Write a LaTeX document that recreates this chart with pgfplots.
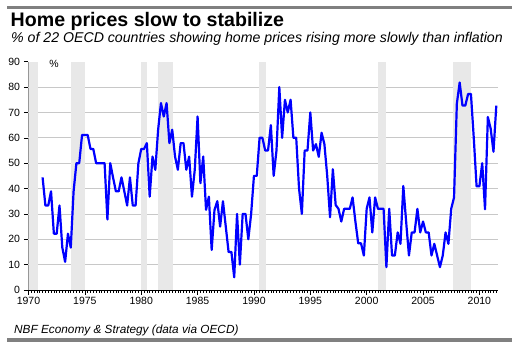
\documentclass[border=0pt]{standalone}
\usepackage{fontspec}
\setmainfont{Liberation Sans}
\usepackage{pgfplots}
\pgfplotsset{compat=1.18}
\definecolor{barcol}{RGB}{128,128,128}
\definecolor{bandcol}{RGB}{232,232,232}
\definecolor{gridcol}{RGB}{200,200,200}
\definecolor{linecol}{RGB}{0,0,255}
\begin{document}
\begin{tikzpicture}
\path[use as bounding box] (0pt,0pt) rectangle (512pt,-351pt);
\fill[barcol] (7pt,-5.7pt) rectangle (512pt,-9pt);
\fill[barcol] (7pt,-338pt) rectangle (512pt,-342pt);
\node[anchor=base west, inner sep=0pt, font=\fontsize{19.6}{21}\selectfont\bfseries] at (10.5pt,-26pt) {Home prices slow to stabilize};
\node[anchor=base west, inner sep=0pt, font=\fontsize{14.15}{16}\selectfont\itshape] at (11pt,-42.5pt) {\% of 22 OECD countries showing home prices rising more slowly than inflation};
\node[anchor=base west, inner sep=0pt, font=\fontsize{11.8}{14}\selectfont\itshape] at (14pt,-333pt) {NBF Economy \& Strategy (data via OECD)};
\node[inner sep=0pt, font=\fontsize{10.5}{12}\selectfont] at (54pt,-63.5pt) {\%};
\begin{axis}[
  at={(28.5pt,-290pt)}, anchor=south west,
  scale only axis, width=469.5pt, height=228.3pt,
  xmin=1970, xmax=2011.65, ymin=0, ymax=90,
  axis x line*=bottom, axis y line*=left,
  axis line style={black, line width=0.8pt},
  tick align=outside,
  tick style={black, line width=0.6pt},
  xtick={1970,1975,...,2010},
  minor xtick={1970,1970.25,...,2011.5},
  ytick={0,10,...,90},
  major tick length=4.5pt, minor tick length=2.5pt,
  extra y ticks={10,20,...,80},
  extra y tick labels={},
  extra y tick style={grid=major, major tick length=0pt},
  grid style={gridcol, line width=0.7pt},
  /pgf/number format/1000 sep={},
  /pgf/number format/assume math mode=true,
  ticklabel style={font=\fontsize{10.5}{12}\selectfont},
  xticklabel style={yshift=1pt},
  yticklabel style={xshift=-0.5pt},
]
\addplot[fill=bandcol, draw=none, forget plot] coordinates {(1970,90)(1970.8,90)} \closedcycle;
\addplot[fill=bandcol, draw=none, forget plot] coordinates {(1973.75,90)(1975.05,90)} \closedcycle;
\addplot[fill=bandcol, draw=none, forget plot] coordinates {(1980.0,90)(1980.5,90)} \closedcycle;
\addplot[fill=bandcol, draw=none, forget plot] coordinates {(1981.5,90)(1982.8,90)} \closedcycle;
\addplot[fill=bandcol, draw=none, forget plot] coordinates {(1990.45,90)(1991.05,90)} \closedcycle;
\addplot[fill=bandcol, draw=none, forget plot] coordinates {(2001.0,90)(2001.75,90)} \closedcycle;
\addplot[fill=bandcol, draw=none, forget plot] coordinates {(2007.7,90)(2009.25,90)} \closedcycle;
\addplot[linecol, line width=2.2pt, line join=round, mark=none] coordinates {
(1971.25,44.4)(1971.5,33.3)(1971.75,33.3)(1972.0,38.9)(1972.25,22.2)(1972.5,22.2)(1972.75,33.3)
(1973.0,16.7)(1973.25,11.1)(1973.5,22.2)(1973.75,16.7)(1974.0,38.9)(1974.25,50)(1974.5,50)(1974.75,61.1)
(1975.0,61.1)(1975.25,61.1)(1975.5,55.6)(1975.75,55.6)(1976.0,50)(1976.25,50)(1976.5,50)(1976.75,50)
(1977.0,27.8)(1977.25,50)(1977.5,44.4)(1977.75,38.9)(1978.0,38.9)(1978.25,44.4)(1978.5,38.9)(1978.75,33.3)
(1979.0,44.4)(1979.25,33.3)(1979.5,33.3)(1979.75,50)(1980.0,55.6)(1980.25,55.6)(1980.5,57.9)(1980.75,36.8)
(1981.0,52.6)(1981.25,47.4)(1981.5,63.2)(1981.75,73.7)(1982.0,68.4)(1982.25,73.7)(1982.5,57.9)(1982.75,63.2)
(1983.0,52.6)(1983.25,47.4)(1983.5,57.9)(1983.75,57.9)(1984.0,47.4)(1984.25,52.6)(1984.5,36.8)(1984.75,47.4)
(1985.0,68.4)(1985.25,42.1)(1985.5,52.6)(1985.75,31.6)(1986.0,36.8)(1986.25,15.8)(1986.5,31.6)(1986.75,35)
(1987.0,25)(1987.25,35)(1987.5,25)(1987.75,15)(1988.0,15)(1988.25,5)(1988.5,30)(1988.75,10)
(1989.0,30)(1989.25,30)(1989.5,20)(1989.75,30)(1990.0,45)(1990.25,45)(1990.5,60)(1990.75,60)
(1991.0,55)(1991.25,55)(1991.5,65)(1991.75,45)(1992.0,55)(1992.25,80)(1992.5,60)(1992.75,75)
(1993.0,70)(1993.25,75)(1993.5,60)(1993.75,60)(1994.0,40)(1994.25,30)(1994.5,55)(1994.75,55)
(1995.0,70)(1995.25,55)(1995.5,57.5)(1995.75,52.5)(1996.0,62)(1996.25,57.5)(1996.5,45)(1996.75,28.7)
(1997.0,47.6)(1997.25,33.5)(1997.5,32)(1997.75,27)(1998.0,32)(1998.25,32)(1998.5,32)(1998.75,36.5)
(1999.0,27)(1999.25,18.4)(1999.5,18.4)(1999.75,13.6)(2000.0,32)(2000.25,36.5)(2000.5,22.7)(2000.75,36.5)
(2001.0,32)(2001.25,32)(2001.5,32)(2001.75,9)(2002.0,32)(2002.25,13.6)(2002.5,13.6)(2002.75,22.7)
(2003.0,18.2)(2003.25,41)(2003.5,27)(2003.75,13.6)(2004.0,22.7)(2004.25,22.7)(2004.5,32)(2004.75,22.7)
(2005.0,27)(2005.25,22.7)(2005.5,22.7)(2005.75,13.6)(2006.0,18.2)(2006.25,13.6)(2006.5,9)(2006.75,13.6)
(2007.0,22.7)(2007.25,18.2)(2007.5,32)(2007.75,36.5)(2008.0,73.5)(2008.25,81.8)(2008.5,72.7)(2008.75,72.7)
(2009.0,77.3)(2009.25,77.3)(2009.5,60)(2009.75,40.9)(2010.0,40.9)(2010.25,50)(2010.5,31.8)(2010.75,68.2)
(2011.0,63.6)(2011.25,54.5)(2011.5,72.7)
};
\end{axis}
\end{tikzpicture}
\end{document}
